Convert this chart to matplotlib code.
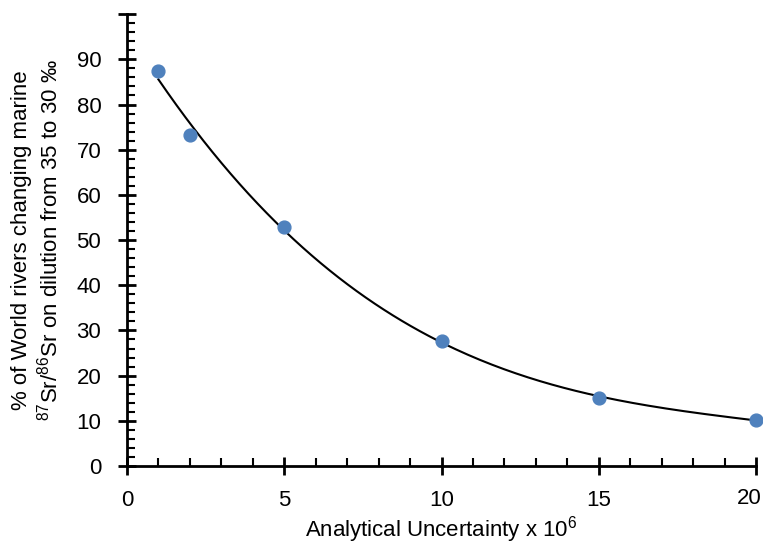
import numpy as np
import matplotlib
matplotlib.use('Agg')
import matplotlib.pyplot as plt
from matplotlib.ticker import MultipleLocator, FixedFormatter

plt.rcParams['font.family'] = ['Liberation Sans', 'DejaVu Sans']
plt.rcParams['mathtext.fontset'] = 'custom'
plt.rcParams['mathtext.rm'] = 'Liberation Sans'
plt.rcParams['mathtext.default'] = 'regular'

uncertainty = [1, 2, 5, 10, 15, 20]
pct_rivers = [87.4, 73.2, 52.9, 27.7, 15.0, 10.2]
x_ticks = [0, 5, 10, 15, 20]

fig = plt.figure(figsize=(7.63, 5.45), dpi=100)
ax = fig.add_axes([0.1664, 0.145, 0.8246, 0.829])

# polynomial trendline through the points
coef = np.polyfit(uncertainty, pct_rivers, 3)
xs = np.linspace(1, 20, 200)
ax.plot(xs, np.polyval(coef, xs), color='black', lw=1.5, zorder=2)

ax.scatter(uncertainty, pct_rivers, s=85, color='#4F81BD', zorder=3, clip_on=False)

ax.set_xlim(0, 20)
ax.set_ylim(0, 100)
ax.set_xticks(x_ticks)
ax.set_xticklabels([str(v) for v in x_ticks[:-1]] + [''])
ax.xaxis.set_minor_locator(MultipleLocator(1))
ax.yaxis.set_minor_locator(MultipleLocator(2))
ax.set_yticks(range(0, 101, 10))
ax.set_yticklabels([str(v) for v in range(0, 91, 10)] + [''])

for s in ['top', 'right']:
    ax.spines[s].set_visible(False)
for s in ['left', 'bottom']:
    ax.spines[s].set_linewidth(2)

ax.tick_params(which='major', direction='inout', length=13, width=2, labelsize=16, colors='black')
ax.tick_params(which='minor', direction='in', length=6, width=1.5)
ax.tick_params(axis='x', which='major', pad=11)
ax.tick_params(axis='y', which='major', pad=12)

# last x label nudged left so it stays inside the figure
ax.annotate(str(x_ticks[-1]), xy=(x_ticks[-1], 0), xycoords=('data', 'axes fraction'),
            xytext=(4.3, -15.7), textcoords='offset points',
            ha='right', va='top', fontsize=16, annotation_clip=False)

ax.set_xlabel('Analytical Uncertainty x 10$^{6}$', fontsize=16, labelpad=2)
ax.set_ylabel('% of World rivers changing marine\n$^{87}$Sr/$^{86}$Sr on dilution from 35 to 30 ‰',
              fontsize=16, labelpad=10)

fig.savefig('out.png', dpi=100)
